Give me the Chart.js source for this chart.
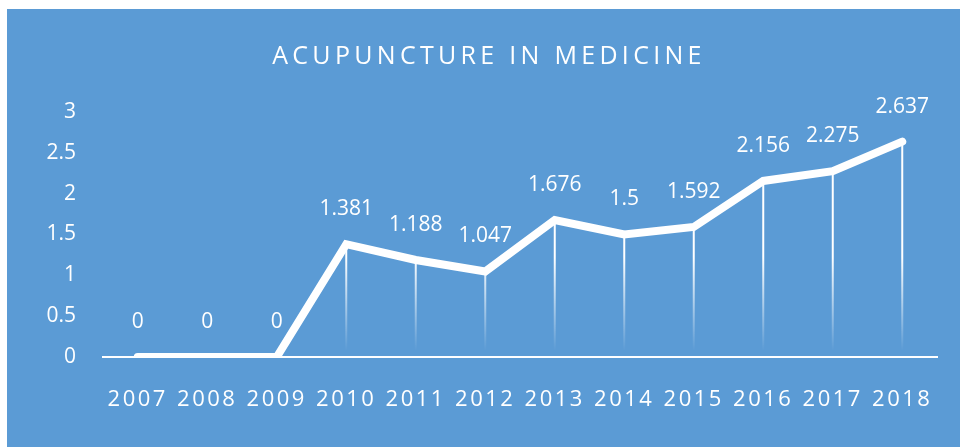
<!DOCTYPE html>
<html>
<head>
<meta charset="utf-8">
<script src="https://cdn.jsdelivr.net/npm/chart.js@4"></script>
<style>
  html, body { margin: 0; padding: 0; background: #fff; }
  #box { position: absolute; left: 7px; top: 9px; width: 953px; height: 438px; background: #5b9bd5; }
</style>
</head>
<body>
<div id="box"><canvas id="myChart"></canvas></div>
<script>
const title = 'ACUPUNCTURE IN MEDICINE';
const years = ['2007', '2008', '2009', '2010', '2011', '2012', '2013', '2014', '2015', '2016', '2017', '2018'];
const values = [0, 0, 0, 1.381, 1.188, 1.047, 1.676, 1.5, 1.592, 2.156, 2.275, 2.637];
const yTicks = [0, 0.5, 1, 1.5, 2, 2.5, 3];

const FONT = '"Open Sans", sans-serif';

// drop lines under the points, fading towards the axis
const dropLines = {
    id: 'dropLines',
    beforeDatasetsDraw(chart) {
        const ctx = chart.ctx;
        const y0 = chart.scales.y.getPixelForValue(0);
        const grad = ctx.createLinearGradient(0, y0 - 100, 0, y0 - 6);
        grad.addColorStop(0, 'rgba(255,255,255,1)');
        grad.addColorStop(1, 'rgba(255,255,255,0)');
        ctx.save();
        ctx.strokeStyle = grad;
        ctx.lineWidth = 2;
        chart.getDatasetMeta(0).data.forEach((pt, i) => {
            if (!values[i]) return;
            ctx.beginPath();
            ctx.moveTo(pt.x, pt.y);
            ctx.lineTo(pt.x, y0);
            ctx.stroke();
        });
        ctx.restore();
    },
    afterDatasetsDraw(chart) {
        const ctx = chart.ctx;
        ctx.save();
        ctx.fillStyle = '#fff';
        ctx.font = '21px ' + FONT;
        ctx.textAlign = 'center';
        ctx.textBaseline = 'middle';
        chart.getDatasetMeta(0).data.forEach((pt, i) => {
            ctx.fillText(String(values[i]), pt.x, pt.y - 35);
        });
        ctx.restore();
    },
    afterDraw(chart) {
        const ctx = chart.ctx;
        ctx.save();
        ctx.fillStyle = '#fff';
        ctx.font = '25px ' + FONT;
        ctx.letterSpacing = '4.3px';
        ctx.textAlign = 'center';
        ctx.textBaseline = 'middle';
        ctx.fillText(title, 482, 48);
        ctx.restore();
    }
};

// spaced-out year labels (y labels are drawn later, on z 1, without spacing)
const spacing = {
    id: 'spacing',
    beforeDraw(chart) { chart.ctx.letterSpacing = '2.5px'; },
    beforeDatasetsDraw(chart) { chart.ctx.letterSpacing = '0px'; }
};

new Chart(document.getElementById('myChart'), {
    type: 'line',
    data: {
        labels: years,
        datasets: [{
            data: values,
            borderColor: '#fff',
            borderWidth: 8,
            borderCapStyle: 'round',
            borderJoinStyle: 'miter',
            pointRadius: 0,
            tension: 0
        }]
    },
    options: {
        responsive: true,
        maintainAspectRatio: false,
        animation: false,
        layout: { padding: { top: 103, right: 23, left: 0, bottom: 0 } },
        plugins: { legend: { display: false }, tooltip: { enabled: false } },
        scales: {
            x: {
                offset: true,
                grid: { display: false, drawTicks: false },
                border: { display: true, color: '#fff', width: 2 },
                ticks: { color: '#fff', font: { family: FONT, size: 22 }, padding: 30, maxRotation: 0, autoSkip: false },
                afterFit(s) { s.height = 90; }
            },
            y: {
                min: 0,
                max: 3,
                grid: { display: false, drawTicks: false },
                border: { display: false },
                afterBuildTicks(s) { s.ticks = yTicks.map(v => ({ value: v })); },
                ticks: { z: 1, color: '#fff', font: { family: FONT, size: 21 }, padding: 27, callback: v => String(v) },
                afterFit(s) { s.width = 96; }
            }
        }
    },
    plugins: [dropLines, spacing]
});
</script>
</body>
</html>
